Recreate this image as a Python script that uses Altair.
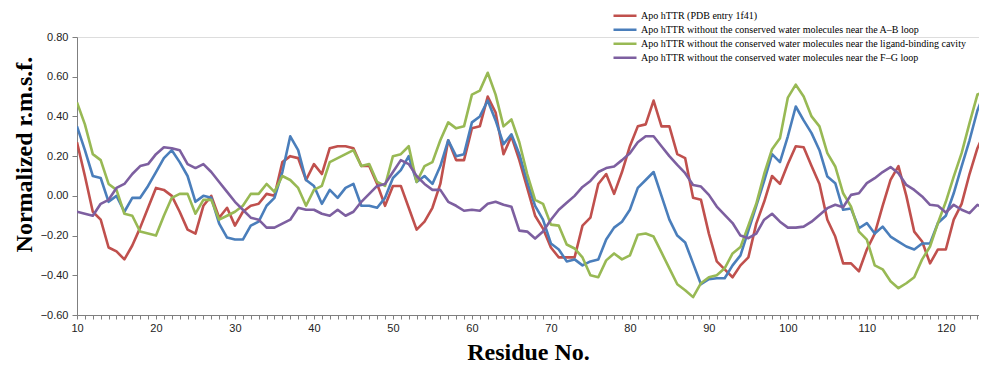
import altair as alt
import pandas as pd

residues = list(range(10, 126))

series_names = [
    "Apo hTTR (PDB entry 1f41)",
    "Apo hTTR without the conserved water molecules near the A\u2013B loop",
    "Apo hTTR without the conserved water molecules near the ligand-binding cavity",
    "Apo hTTR without the conserved water molecules near the F\u2013G loop",
]
colors = ["#C0504D", "#4A7EBB", "#98B954", "#7D5FA0"]

red = [0.27, 0.10, -0.08, -0.12, -0.26, -0.28, -0.32, -0.25, -0.16, -0.06,
       0.04, 0.03, 0.00, -0.08, -0.17, -0.19, -0.05, 0.00, -0.11, -0.06,
       -0.15, -0.08, -0.05, -0.04, 0.01, 0.00, 0.17, 0.20, 0.19, 0.08,
       0.16, 0.11, 0.24, 0.25, 0.25, 0.24, 0.15, 0.15, 0.06, -0.05,
       0.05, 0.05, -0.06, -0.17, -0.13, -0.06, 0.06, 0.28, 0.18, 0.18,
       0.34, 0.35, 0.50, 0.42, 0.21, 0.30, 0.18, 0.04, -0.10, -0.165,
       -0.26, -0.31, -0.31, -0.31, -0.15, -0.11, 0.06, 0.11, 0.01, 0.12,
       0.25, 0.35, 0.36, 0.48, 0.35, 0.35, 0.21, 0.19, -0.01, -0.02,
       -0.19, -0.33, -0.37, -0.41, -0.35, -0.31, -0.14, -0.03, 0.10, 0.06,
       0.16, 0.25, 0.245, 0.15, 0.06, -0.12, -0.205, -0.34, -0.34, -0.38,
       -0.27, -0.19, -0.05, 0.08, 0.15, 0.00, -0.18, -0.23, -0.34, -0.27,
       -0.27, -0.12, -0.04, 0.11, 0.24, 0.33]

blue = [0.35, 0.23, 0.10, 0.09, -0.03, 0.00, -0.08, -0.01, -0.01, 0.05,
        0.12, 0.19, 0.23, 0.17, 0.10, -0.03, 0.00, -0.01, -0.14, -0.21,
        -0.22, -0.22, -0.15, -0.13, -0.05, -0.01, 0.12, 0.30, 0.23, 0.08,
        0.05, -0.04, 0.03, -0.01, 0.04, 0.06, -0.05, -0.05, -0.06, -0.01,
        0.09, 0.13, 0.20, 0.07, 0.10, 0.06, 0.15, 0.28, 0.20, 0.21,
        0.37, 0.40, 0.48, 0.38, 0.26, 0.31, 0.21, 0.07, -0.05, -0.12,
        -0.24, -0.27, -0.33, -0.32, -0.35, -0.33, -0.32, -0.22, -0.16, -0.13,
        -0.07, 0.04, 0.08, 0.12, 0.00, -0.12, -0.20, -0.235, -0.34, -0.445,
        -0.42, -0.415, -0.415, -0.35, -0.30, -0.175, -0.05, 0.075, 0.21, 0.17,
        0.30, 0.45, 0.38, 0.316, 0.23, 0.097, 0.064, -0.07, -0.064, -0.163,
        -0.137, -0.19, -0.155, -0.205, -0.23, -0.255, -0.27, -0.24, -0.24, -0.137,
        -0.10, 0.013, 0.148, 0.28, 0.43, 0.53]

green = [0.47, 0.36, 0.21, 0.18, 0.06, 0.03, -0.09, -0.10, -0.18, -0.19,
         -0.20, -0.10, -0.01, 0.01, 0.01, -0.09, -0.02, -0.02, -0.12, -0.10,
         -0.08, -0.05, 0.01, 0.01, 0.06, 0.02, 0.10, 0.08, 0.04, -0.05,
         0.03, 0.05, 0.17, 0.19, 0.21, 0.23, 0.15, 0.16, 0.07, 0.05,
         0.20, 0.21, 0.25, 0.07, 0.15, 0.17, 0.28, 0.37, 0.34, 0.35,
         0.51, 0.53, 0.62, 0.51, 0.35, 0.385, 0.27, 0.11, -0.02, -0.04,
         -0.145, -0.15, -0.245, -0.265, -0.31, -0.40, -0.41, -0.325, -0.29, -0.32,
         -0.30, -0.196, -0.19, -0.205, -0.285, -0.365, -0.445, -0.475, -0.51, -0.44,
         -0.41, -0.40, -0.365, -0.29, -0.258, -0.15, -0.04, 0.11, 0.235, 0.29,
         0.495, 0.56, 0.50, 0.40, 0.35, 0.215, 0.148, 0.013, -0.054, -0.18,
         -0.22, -0.35, -0.37, -0.43, -0.465, -0.44, -0.41, -0.32, -0.255, -0.137,
         -0.03, 0.097, 0.215, 0.366, 0.51, 0.525]

purple = [-0.08, -0.09, -0.10, -0.04, -0.02, 0.04, 0.06, 0.11, 0.15, 0.16,
          0.21, 0.245, 0.24, 0.23, 0.16, 0.14, 0.16, 0.12, 0.07, 0.02,
          -0.03, -0.07, -0.11, -0.12, -0.16, -0.16, -0.14, -0.12, -0.06, -0.07,
          -0.07, -0.09, -0.10, -0.07, -0.10, -0.08, -0.03, 0.01, 0.05, 0.06,
          0.12, 0.18, 0.16, 0.10, 0.06, 0.03, 0.03, -0.03, -0.05, -0.075,
          -0.07, -0.075, -0.04, -0.03, -0.045, -0.055, -0.175, -0.18, -0.215, -0.18,
          -0.12, -0.07, -0.035, 0.0, 0.045, 0.075, 0.12, 0.14, 0.148, 0.18,
          0.215, 0.27, 0.30, 0.30, 0.25, 0.20, 0.156, 0.114, 0.055, 0.047,
          0.005, -0.054, -0.096, -0.137, -0.20, -0.213, -0.19, -0.12, -0.09, -0.13,
          -0.16, -0.16, -0.155, -0.13, -0.096, -0.062, -0.045, -0.057, 0.005, 0.013,
          0.064, 0.089, 0.12, 0.145, 0.114, 0.055, 0.03, -0.003, -0.045, -0.05,
          -0.084, -0.045, -0.07, -0.087, -0.045, -0.065]

x_tick_labels = [10, 20, 30, 40, 50, 60, 70, 80, 90, 100, 110, 120]
x_ticks = list(range(10, 125))
y_ticks = [-0.6, -0.4, -0.2, 0.0, 0.2, 0.4, 0.6, 0.8]

rows = []
for name, vals in zip(series_names, [red, blue, green, purple]):
    for r, v in zip(residues, vals):
        rows.append({"residue": r, "value": v, "series": name})
df = pd.DataFrame(rows)

label_expr = ("indexof([" + ",".join(str(v) for v in x_tick_labels) +
              "], datum.value) >= 0 ? datum.label : ''")

axis_gray = "#7f7f7f"

chart = alt.Chart(df).mark_line(strokeWidth=2.6, clip=True, strokeJoin="round").encode(
    x=alt.X(
        "residue:Q",
        scale=alt.Scale(domain=[10, 124.2], nice=False, zero=False),
        axis=alt.Axis(
            values=x_ticks, labelExpr=label_expr, title="Residue No.",
            grid=False, tickSize=4, tickWidth=1, tickColor=axis_gray, domainColor=axis_gray,
            labelFont="Liberation Sans", labelFontSize=11, labelColor="#222222",
            labelPadding=3, labelFlush=False, labelOverlap=False,
            titleFont="Liberation Serif", titleFontWeight="bold", titleFontSize=24,
            titleColor="black", titleY=44, titleBaseline="alphabetic",
        ),
    ),
    y=alt.Y(
        "value:Q",
        scale=alt.Scale(domain=[-0.6, 0.8], nice=False, zero=False),
        axis=alt.Axis(
            values=y_ticks, format=".2f", title="Normalized r.m.s.f.",
            grid=False, tickSize=5, tickColor=axis_gray, domainColor=axis_gray,
            labelFont="Liberation Sans", labelFontSize=11, labelColor="#222222",
            labelPadding=4,
            titleFont="Liberation Serif", titleFontWeight="bold", titleFontSize=24,
            titleColor="black", titleX=-46, titleY=117, titleAngle=270,
            titleBaseline="alphabetic", titleAlign="center",
        ),
    ),
    color=alt.Color(
        "series:N",
        scale=alt.Scale(domain=series_names, range=colors),
        legend=alt.Legend(
            title=None, orient="none", legendX=535, legendY=-28,
            symbolType="stroke", symbolSize=529, symbolStrokeWidth=2.6,
            clipHeight=13.5, rowPadding=0, padding=0,
            labelFont="Liberation Serif", labelFontSize=10, labelColor="black",
            labelLimit=600, labelOffset=3,
        ),
    ),
).properties(
    width=902, height=278,
    autosize=alt.AutoSizeParams(type="none"),
    padding={"left": 69, "top": 29, "right": 0, "bottom": 50},
).configure_view(stroke=None).configure(background="white")

chart.save("out.html", embed_options={"renderer": "svg", "actions": False})
